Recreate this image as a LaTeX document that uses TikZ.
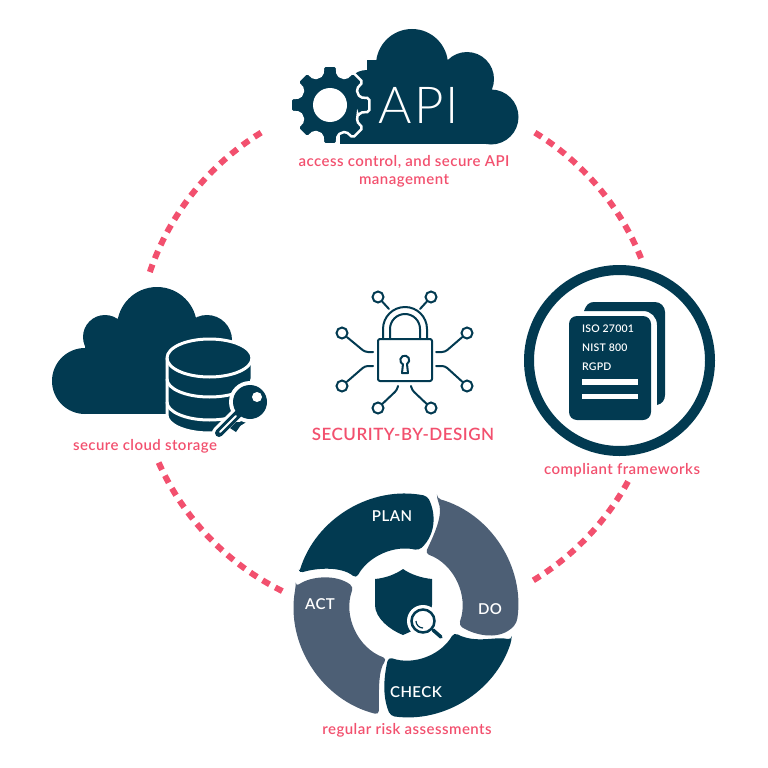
\documentclass[tikz,border=0pt]{standalone}
\usepackage{fontspec}
\setmainfont{Lato}
\newfontfamily\lightfont[LetterSpace=4]{Lato Light}
\newfontfamily\capfont[LetterSpace=3]{Lato Semibold}
\newfontfamily\docfont[LetterSpace=2]{Lato Semibold}
\usepackage{tikz}
\usetikzlibrary{positioning}

\definecolor{navy}{HTML}{023A51}
\definecolor{slate}{HTML}{4D5F75}
\definecolor{rose}{HTML}{F2506E}

\tikzset{
  dotline/.style={rose, line width=6pt, dash pattern=on 8pt off 6.5pt},
  caption/.style={rose, font=\capfont\fontsize{15}{18}\selectfont, align=center, inner sep=0pt},
  segdark/.style={fill=navy, rounded corners=4pt},
  seglight/.style={fill=slate, rounded corners=4pt},
  seglabel/.style={white, font=\capfont\fontsize{15}{15}\selectfont, inner sep=0pt},
  doclabel/.style={white, font=\docfont\fontsize{10.5}{10.5}\selectfont, inner sep=0pt},
  trace/.style={navy, line width=2pt, line cap=round, line join=round},
  pin/.style={circle, draw=navy, fill=white, line width=2pt, minimum size=11pt, inner sep=0pt}
}

\begin{document}
\begin{tikzpicture}[x=1pt,y=1pt]
\useasboundingbox (0,-768) rectangle (768,0);

% dotted ring
\coordinate (hub) at (398,-356);
\draw[dotline] ([shift={(121.5:262)}]hub) arc[start angle=121.5, end angle=161.3, radius=262];
\draw[dotline] ([shift={(58.5:262)}]hub) arc[start angle=58.5, end angle=21.9, radius=262];
\draw[dotline] ([shift={(204:262)}]hub) arc[start angle=204, end angle=243.8, radius=262];
\draw[dotline] ([shift={(-58.9:262)}]hub) arc[start angle=-58.9, end angle=-28.6, radius=262];

% api cloud
\fill[navy] (412,-65) circle (36) (467,-79) circle (27) (491,-117) circle (27.5) (367,-92) circle (22);
\fill[navy] (340,-144) rectangle (491,-90);
\fill[navy] (367,-92) rectangle (470,-60);
\begin{scope}[shift={(330,-105)}]
  \fill[navy, draw=white, line width=2.5pt, rounded corners=2pt] (-22.5:30)
    \foreach \a in {0,45,...,315} { -- (\a-14:31) -- (\a-10:40) -- (\a+10:40) -- (\a+14:31) -- (\a+22.5:30) } -- cycle;
  \fill[white] (0,0) circle (17);
\end{scope}
\node[white, font=\lightfont\fontsize{51}{51}\selectfont, inner sep=0pt] (apiText) at (419,-105) {API};
\node[caption] (apiLabel) at (404,-171) {access control, and secure API\\management};

% storage cloud
\fill[navy] (85,-381) circle (33) (105,-337) circle (22) (157,-327) circle (40) (207,-340) circle (25);
\fill[navy] (85,-414) rectangle (200,-340);
\fill[navy, draw=white, line width=3pt] (167,-358) -- (167,-415) arc[start angle=180, end angle=360, x radius=42.5, y radius=18] -- (252,-358) arc[start angle=0, end angle=180, x radius=42.5, y radius=19] -- cycle;
\draw[white, line width=3pt] (167,-358) arc[start angle=180, end angle=360, x radius=42.5, y radius=19];
\draw[white, line width=3pt] (167,-379) arc[start angle=180, end angle=360, x radius=42.5, y radius=18];
\draw[white, line width=3pt] (167,-402) arc[start angle=180, end angle=360, x radius=42.5, y radius=18];
\draw[white, line width=1.5pt] (253.5,-345) -- (253.5,-420);
\fill[white] (250,-402) circle (21);
\draw[white, line width=14pt, line cap=round] (236,-416) -- (219,-433);
\fill[navy] (250,-402) circle (17);
\fill[white] (257,-397) circle (5);
\draw[navy, line width=8pt, line cap=round] (238,-414) -- (219,-433);
\draw[white, line width=2pt, line cap=round] (236,-416) -- (220,-432);
\fill[navy] (230,-428) -- (236,-422) -- (243,-422) -- (236,-432) -- cycle;
\node[caption] (cloudLabel) at (145,-446) {secure cloud storage};

% lock
\draw[trace] (383,-339) -- (383,-329) arc[start angle=180, end angle=0, radius=22] -- (427,-339);
\draw[trace] (390,-339) -- (390,-329) arc[start angle=180, end angle=0, radius=15] -- (420,-339);
\draw[trace, rounded corners=2pt] (378,-339) rectangle (432,-381);
\draw[trace] (403,-364) -- (402,-373) -- (408,-373) -- (407,-364) arc[start angle=-60, end angle=240, radius=4.5];
\node[pin] (pinA) at (378,-297) {};
\node[pin] (pinB) at (431,-297) {};
\node[pin] (pinC) at (342,-333) {};
\node[pin] (pinD) at (342,-386) {};
\node[pin] (pinE) at (467,-333) {};
\node[pin] (pinF) at (467,-386) {};
\node[pin] (pinG) at (378,-408) {};
\node[pin] (pinH) at (431,-408) {};
\coordinate (tipA) at (389,-309);
\coordinate (tipB) at (420,-309);
\coordinate (tipC) at (373,-352);
\coordinate (tipD) at (373,-366);
\coordinate (tipE) at (436,-352);
\coordinate (tipF) at (436,-366);
\coordinate (tipG) at (398,-386);
\coordinate (tipH) at (411,-386);
\draw[trace] (pinA) -- (tipA);
\draw[trace] (pinB) -- (tipB);
\draw[trace, rounded corners=3pt] (pinC) -- (365,-352) -- (tipC);
\draw[trace, rounded corners=3pt] (pinD) -- (365,-366) -- (tipD);
\draw[trace, rounded corners=3pt] (pinE) -- (445,-352) -- (tipE);
\draw[trace, rounded corners=3pt] (pinF) -- (445,-366) -- (tipF);
\draw[trace, rounded corners=3pt] (pinG) -- (397,-390) -- (tipG);
\draw[trace, rounded corners=3pt] (pinH) -- (412,-390) -- (tipH);
\node[caption, font=\capfont\fontsize{17}{17}\selectfont] (mainLabel) at (403,-434) {SECURITY-BY-DESIGN};

% frameworks badge
\draw[navy, line width=10pt] (619.5,-360.5) circle (90.5);
\fill[navy] (584,-311) .. controls (586,-305) and (589,-302) .. (594,-302) -- (655,-302)
  arc[start angle=90, end angle=0, radius=10] -- (665,-395) .. controls (665,-400) and (662,-404) .. (657,-405)
  -- (657,-325) .. controls (657,-317) and (651,-311) .. (643,-311) -- cycle;
\fill[navy, rounded corners=8pt] (569,-316) rectangle (651,-420);
\node[doclabel, anchor=west] (isoText) at (582,-329) {ISO 27001};
\node[doclabel, below=10.5pt of isoText.south west, anchor=north west] (nistText) {NIST 800};
\node[doclabel, below=10.5pt of nistText.south west, anchor=north west] (rgpdText) {RGPD};
\fill[white] (582,-379) rectangle (638,-385);
\fill[white] (582,-394) rectangle (638,-399);
\node[caption] (frameLabel) at (622,-470) {compliant frameworks};

% pdca wheel
\begin{scope}[shift={(406,-606)}]
  \path[segdark] (163:112) arc[start angle=163, end angle=79, radius=112]
    .. controls (30,92) and (30,72) .. (77:57) arc[start angle=77, end angle=151, radius=57]
    .. controls (-65,40) and (-90,38) .. cycle;
  \path[seglight] (74:112) arc[start angle=74, end angle=-8.5, radius=112]
    .. controls (95,-35) and (70,-30) .. (-20:56) arc[start angle=-20, end angle=70, radius=56]
    .. controls (34,83) and (36,95) .. cycle;
  \path[segdark] (-17.8:111) arc[start angle=-17.8, end angle=-98, radius=111]
    .. controls (-24,-90) and (-22,-70) .. (-109:54) arc[start angle=-109, end angle=-30, radius=55]
    .. controls (70,-38) and (90,-30) .. cycle;
  \path[seglight] (170:112) arc[start angle=170, end angle=256, radius=112]
    .. controls (-27,-85) and (-28,-65) .. (250:56) arc[start angle=250, end angle=160, radius=56]
    .. controls (-70,32) and (-95,30) .. cycle;
\end{scope}
\node[seglabel] (planText) at (392,-516) {PLAN};
\node[seglabel] (doText) at (490,-609) {DO};
\node[seglabel] (checkText) at (416,-692) {CHECK};
\node[seglabel] (actText) at (320,-604) {ACT};
\fill[navy] (375,-579) .. controls (386,-578) and (396,-574) .. (403,-569) .. controls (410,-574) and (421,-578) .. (432,-579)
  -- (432,-605) .. controls (432,-618) and (416,-630) .. (403,-635) .. controls (390,-630) and (375,-618) .. (375,-605) -- cycle;
\fill[white] (423,-621) circle (16);
\draw[navy, line width=2.5pt] (423,-621) circle (11.5);
\draw[navy, line width=1.2pt] (416,-621) arc[start angle=180, end angle=270, radius=7];
\draw[navy, line width=3.5pt, line cap=round] (433,-630) -- (441,-637);
\node[caption] (cycleLabel) at (407,-730) {regular risk assessments};
\end{tikzpicture}
\end{document}
